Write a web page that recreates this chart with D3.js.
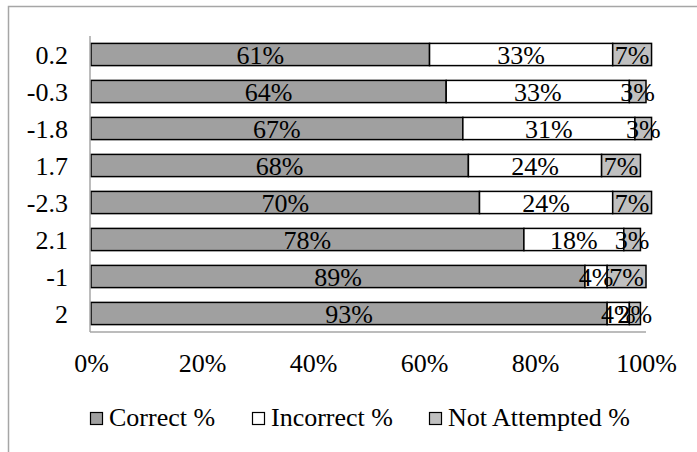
<!DOCTYPE html>
<html>
<head>
<meta charset="utf-8">
<script src="https://cdn.jsdelivr.net/npm/d3@7/dist/d3.min.js"></script>
<style>
  html, body { margin: 0; padding: 0; background: #fff; }
  svg { display: block; }
  text { font-family: "Liberation Serif", "Times New Roman", serif; fill: #000; }
</style>
</head>
<body>
<svg id="chart" width="697" height="452"></svg>
<script>
// Item difficulty groups, listed top to bottom
const categories = ["0.2", "-0.3", "-1.8", "1.7", "-2.3", "2.1", "-1", "2"];
// Share of responses per group (percent)
const correctPct      = [61, 64, 67, 68, 70, 78, 89, 93];
const incorrectPct    = [33, 33, 31, 24, 24, 18, 4, 4];
const notAttemptedPct = [7, 3, 3, 7, 7, 3, 7, 2];
const seriesNames = ["Correct %", "Incorrect %", "Not Attempted %"];
const xTicks = [0, 20, 40, 60, 80, 100];

const colors = ["#a0a0a0", "#ffffff", "#c0c0c0"];

const svg = d3.select("#chart");
const W = 697, H = 452;
const plot = { left: 91, right: 646, top: 36, bottom: 332 };

// outer frame
svg.append("rect")
  .attr("x", 8.5).attr("y", 6.5)
  .attr("width", W + 20).attr("height", H + 20)
  .attr("fill", "#fff").attr("stroke", "#a6a6a6").attr("stroke-width", 1.5);

const rows = categories.map((c, i) => ({
  cat: c,
  values: [correctPct[i], incorrectPct[i], notAttemptedPct[i]]
}));

const x = d3.scaleLinear().domain([0, 100]).range([plot.left, plot.right]);
const y = d3.scaleBand().domain(categories)
  .range([plot.top, plot.bottom]).paddingInner(0.4).paddingOuter(0.2);

// stacked segments
const segs = [];
rows.forEach(r => {
  let acc = 0;
  r.values.forEach((v, k) => {
    segs.push({ cat: r.cat, k, v, x0: acc, x1: acc + v });
    acc += v;
  });
});

svg.append("g").selectAll("rect").data(segs).join("rect")
  .attr("x", d => x(d.x0))
  .attr("y", d => y(d.cat))
  .attr("width", d => x(d.x1) - x(d.x0))
  .attr("height", y.bandwidth())
  .attr("fill", d => colors[d.k])
  .attr("stroke", "#000").attr("stroke-width", 1.5);

// value labels centred in each segment
svg.append("g").selectAll("text").data(segs).join("text")
  .attr("x", d => x((d.x0 + d.x1) / 2))
  .attr("y", d => y(d.cat) + y.bandwidth() / 2 + 9)
  .attr("text-anchor", "middle")
  .attr("font-size", 26)
  .text(d => d.v + "%");

// axes lines
svg.append("line")
  .attr("x1", plot.left - 1).attr("x2", plot.left - 1)
  .attr("y1", plot.top).attr("y2", plot.bottom)
  .attr("stroke", "#a6a6a6").attr("stroke-width", 1.5);
svg.append("line")
  .attr("x1", plot.left - 1).attr("x2", plot.right)
  .attr("y1", plot.bottom).attr("y2", plot.bottom)
  .attr("stroke", "#a6a6a6").attr("stroke-width", 1.5);

// category labels
const yAxis = d3.axisLeft(y).tickSize(0).tickPadding(0);
const gy = svg.append("g").attr("transform", `translate(68,0)`).call(yAxis);
gy.select(".domain").remove();
gy.selectAll("text")
  .attr("font-size", 26)
  .attr("font-family", "Liberation Serif, Times New Roman, serif")
  .attr("fill", "#000")
  .attr("dy", null)
  .attr("y", 9);

// percentage axis labels
const xAxis = d3.axisBottom(x).tickValues(xTicks).tickSize(0).tickPadding(0)
  .tickFormat(d => d + "%");
const gx = svg.append("g").attr("transform", `translate(0,${plot.bottom})`).call(xAxis);
gx.select(".domain").remove();
gx.selectAll("text")
  .attr("font-size", 26)
  .attr("font-family", "Liberation Serif, Times New Roman, serif")
  .attr("fill", "#000")
  .attr("dy", null)
  .attr("y", 40);

// legend
const legendX = [90, 252, 429];
const lg = svg.append("g").selectAll("g").data(seriesNames).join("g")
  .attr("transform", (d, i) => `translate(${legendX[i]},412)`);
lg.append("rect")
  .attr("x", 0.5).attr("y", 0.5).attr("width", 12).attr("height", 12)
  .attr("fill", (d, i) => colors[i])
  .attr("stroke", "#000").attr("stroke-width", 1.2);
lg.append("text")
  .attr("x", 19).attr("y", 13.5)
  .attr("font-size", 26)
  .text(d => d);
</script>
</body>
</html>
